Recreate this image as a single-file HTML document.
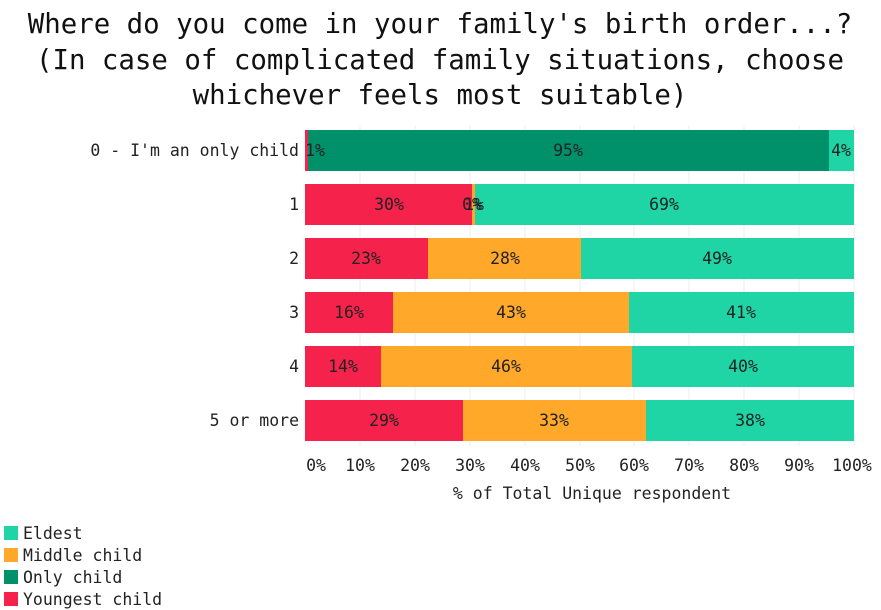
<!DOCTYPE html>
<html><head><meta charset="utf-8"><style>
body{margin:0;background:#fff}
svg{display:block;font-family:"DejaVu Sans Mono","Liberation Mono",monospace}
</style></head><body>
<svg width="881" height="610" xmlns="http://www.w3.org/2000/svg">
<g font-size="27.4" fill="#111" text-anchor="middle">
<text x="440" y="33">Where do you come in your family's birth order...?</text>
<text x="440" y="69">(In case of complicated family situations, choose</text>
<text x="440" y="104">whichever feels most suitable)</text>
</g>
<g stroke="#eee" stroke-width="1">
<line x1="360" y1="125" x2="360" y2="446"/><line x1="415" y1="125" x2="415" y2="446"/>
<line x1="470" y1="125" x2="470" y2="446"/><line x1="525" y1="125" x2="525" y2="446"/>
<line x1="580" y1="125" x2="580" y2="446"/><line x1="634" y1="125" x2="634" y2="446"/>
<line x1="689" y1="125" x2="689" y2="446"/><line x1="744" y1="125" x2="744" y2="446"/>
<line x1="799" y1="125" x2="799" y2="446"/><line x1="854" y1="125" x2="854" y2="446"/>
</g>
<g>
<rect x="305" y="130" width="3" height="41" fill="#f5234b"/>
<rect x="308" y="130" width="521" height="41" fill="#00916b"/>
<rect x="829" y="130" width="25" height="41" fill="#1fd5a5"/>
<rect x="305" y="184" width="167" height="41" fill="#f5234b"/>
<rect x="472" y="184" width="3" height="41" fill="#ffa82a"/>
<rect x="475" y="184" width="379" height="41" fill="#1fd5a5"/>
<rect x="305" y="238" width="123" height="41" fill="#f5234b"/>
<rect x="428" y="238" width="153" height="41" fill="#ffa82a"/>
<rect x="581" y="238" width="273" height="41" fill="#1fd5a5"/>
<rect x="305" y="292" width="88" height="41" fill="#f5234b"/>
<rect x="393" y="292" width="236" height="41" fill="#ffa82a"/>
<rect x="629" y="292" width="225" height="41" fill="#1fd5a5"/>
<rect x="305" y="346" width="76" height="41" fill="#f5234b"/>
<rect x="381" y="346" width="251" height="41" fill="#ffa82a"/>
<rect x="632" y="346" width="222" height="41" fill="#1fd5a5"/>
<rect x="305" y="400" width="158" height="41" fill="#f5234b"/>
<rect x="463" y="400" width="183" height="41" fill="#ffa82a"/>
<rect x="646" y="400" width="208" height="41" fill="#1fd5a5"/>
</g>
<g font-size="16.5" fill="#222" text-anchor="middle">
<text x="315" y="156">1%</text><text x="568" y="156">95%</text><text x="841" y="156">4%</text>
<text x="389" y="210">30%</text><text x="472" y="210">0%</text><text x="474" y="210">1%</text><text x="664" y="210">69%</text>
<text x="366" y="264">23%</text><text x="505" y="264">28%</text><text x="717" y="264">49%</text>
<text x="349" y="318">16%</text><text x="511" y="318">43%</text><text x="741" y="318">41%</text>
<text x="343" y="372">14%</text><text x="506" y="372">46%</text><text x="743" y="372">40%</text>
<text x="384" y="426">29%</text><text x="554" y="426">33%</text><text x="750" y="426">38%</text>
</g>
<g font-size="16.5" fill="#222" text-anchor="end">
<text x="299" y="156">0 - I'm an only child</text>
<text x="299" y="210">1</text><text x="299" y="264">2</text><text x="299" y="318">3</text>
<text x="299" y="372">4</text><text x="299" y="426">5 or more</text>
</g>
<g font-size="16.5" fill="#222" text-anchor="middle">
<text x="316" y="471">0%</text><text x="360" y="471">10%</text><text x="415" y="471">20%</text>
<text x="470" y="471">30%</text><text x="525" y="471">40%</text><text x="580" y="471">50%</text>
<text x="634" y="471">60%</text><text x="689" y="471">70%</text><text x="744" y="471">80%</text>
<text x="799" y="471">90%</text><text x="852" y="471">100%</text>
<text x="592" y="499">% of Total Unique respondent</text>
</g>
<g font-size="16.5" fill="#222">
<rect x="4" y="526" width="14" height="14" fill="#1fd5a5"/><text x="23" y="539">Eldest</text>
<rect x="4" y="548" width="14" height="14" fill="#ffa82a"/><text x="23" y="561">Middle child</text>
<rect x="4" y="570" width="14" height="14" fill="#00916b"/><text x="23" y="583">Only child</text>
<rect x="4" y="592" width="14" height="14" fill="#f5234b"/><text x="23" y="605">Youngest child</text>
</g>
</svg>
</body></html>
